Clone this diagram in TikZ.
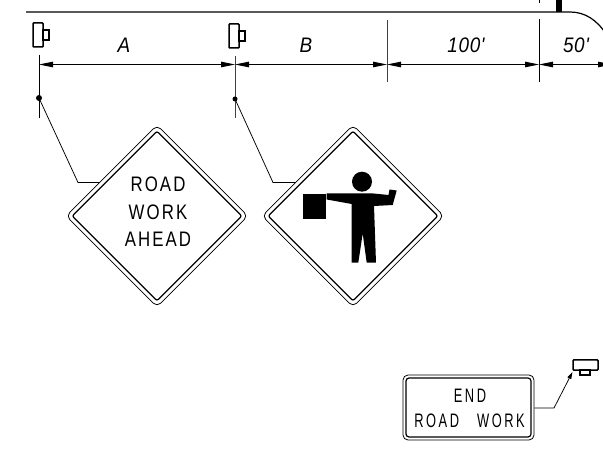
\documentclass[tikz,border=0pt]{standalone}
\usepackage{fontspec}
\setmainfont{Liberation Sans}
\newfontfamily\signfont[FakeStretch=0.8,LetterSpace=10]{Liberation Sans}
\newfontfamily\endfont[FakeStretch=0.66,LetterSpace=13]{Liberation Sans}
\newfontfamily\dimfont[FakeStretch=0.9,LetterSpace=3]{Liberation Sans Italic}
\usetikzlibrary{arrows.meta,shapes.geometric}
\tikzset{
  x=1pt,y=-1pt,
  road/.style={line width=1.2pt,line cap=butt},
  thin line/.style={line width=0.75pt,black},
  ext/.style={line width=0.8pt,black!75},
  dim/.style={line width=0.8pt,{Triangle[length=14pt,width=5.5pt]}-{Triangle[length=14pt,width=5.5pt]}},
  icon/.style={draw,line width=1.5pt,rounded corners=0.8pt,fill=white},
  iconsmall/.style={draw,line width=1.1pt},
  dot/.style={circle,fill=black,inner sep=0,minimum size=#1},
  outerd/.style={diamond,aspect=1,draw,line width=0.8pt,rounded corners=5pt,inner sep=0,minimum width=182pt,minimum height=182pt,fill=white},
  innerd/.style={diamond,aspect=1,draw,line width=1.2pt,rounded corners=2pt,inner sep=0,minimum width=170pt,minimum height=170pt},
  signtxt/.style={font=\fontsize{21}{21}\signfont,inner sep=0},
  dimtxt/.style={font=\fontsize{21}{21}\dimfont,inner sep=0},
  endtxt/.style={font=\fontsize{19.5}{19.5}\endfont,inner sep=0},
}
\begin{document}
\begin{tikzpicture}
\useasboundingbox (0,0) rectangle (603,449);
\clip (0,0) rectangle (603,449);
% road edge
\draw[road] (26,12) -- (570,12) .. controls (585,12) and (597,20) .. (606,34);
\fill (556,0) rectangle (561.5,12);
\draw[thin line] (539,0) -- (539,3);
% sign icons
\draw[icon] (33,23) rectangle (43,47);
\draw[iconsmall] (43,30) rectangle (49,40);
\draw[icon] (229,24) rectangle (239,48);
\draw[iconsmall] (239,31) rectangle (245,41);
% extension lines
\draw[thin line] (39,55) -- (39,118);
\draw[ext] (235,56) -- (235,118);
\draw[ext] (387,20) -- (387,82);
\draw[thin line] (539,19) -- (539,82);
% dimension line
\coordinate (d0) at (39,64.5);
\coordinate (d1) at (235,64.5);
\coordinate (d2) at (387,64.5);
\coordinate (d3) at (539,64.5);
\coordinate (d4) at (612,64.5);
\draw[dim] (d0) -- (d1);
\draw[dim] (d1) -- (d2);
\draw[dim] (d2) -- (d3);
\draw[dim] (d3) -- (d4);
\node[dimtxt] (la) at (124,45) {A};
\node[dimtxt] (lb) at (306,45) {B};
\node[dimtxt] (lc) at (466,45) {100'};
\node[dimtxt] (ld) at (576,45) {50'};
% leaders
\node[dot=6pt] (p1) at (39,98) {};
\node[dot=5pt] (p2) at (235,99) {};
\coordinate (k1) at (78,182.5);
\coordinate (k2) at (273,182.5);
\coordinate (e1) at (100,182.5);
\coordinate (e2) at (296,182.5);
\draw[thin line] (p1.center) -- (k1) -- (e1);
\draw[thin line] (p2.center) -- (k2) -- (e2);
% diamonds
\node[outerd] (s1) at (157,216) {};
\node[innerd] (s1i) at (157,216) {};
\node[outerd] (s2) at (353,216) {};
\node[innerd] (s2i) at (353,216) {};
\node[signtxt] (t1) at (158,184) {ROAD};
\node[signtxt] (t2) at (158,212) {WORK};
\node[signtxt] (t3) at (158,239.5) {AHEAD};
% flagger
\fill (362,181.7) circle (10);
\fill (302.7,193.7) rectangle (326.3,219);
\fill (326.7,193.5) -- (373.5,193.5) -- (388.5,195) -- (389.5,189.5) -- (396.7,190.5) -- (392.7,205) -- (374,206) -- (376,262.7) -- (366.7,262.7) -- (362.7,233.5) -- (358.3,262.7) -- (351.7,262.7) -- (351.7,204) -- (326.7,199.5) -- cycle;
% end sign
\node[draw,line width=0.8pt,rounded corners=5pt,minimum width=131pt,minimum height=65pt,inner sep=0] (es) at (468.5,407.5) {};
\node[draw,line width=1.2pt,rounded corners=3pt,minimum width=125pt,minimum height=59pt,inner sep=0] (esi) at (468.5,407.5) {};
\node[endtxt] (e1t) at (470,395.5) {END};
\node[endtxt] (e2t) at (469.5,421) {ROAD\hspace{18pt}WORK};
% end sign icon
\draw[icon] (573,360) rectangle (598,370);
\draw[iconsmall] (580,370) rectangle (590,375);
\coordinate (k3) at (554,408);
\coordinate (e3) at (572.5,372);
\draw[thin line,-{Triangle[length=7pt,width=4pt]}] (es.east |- k3) -- (k3) -- (e3);
\end{tikzpicture}
\end{document}
